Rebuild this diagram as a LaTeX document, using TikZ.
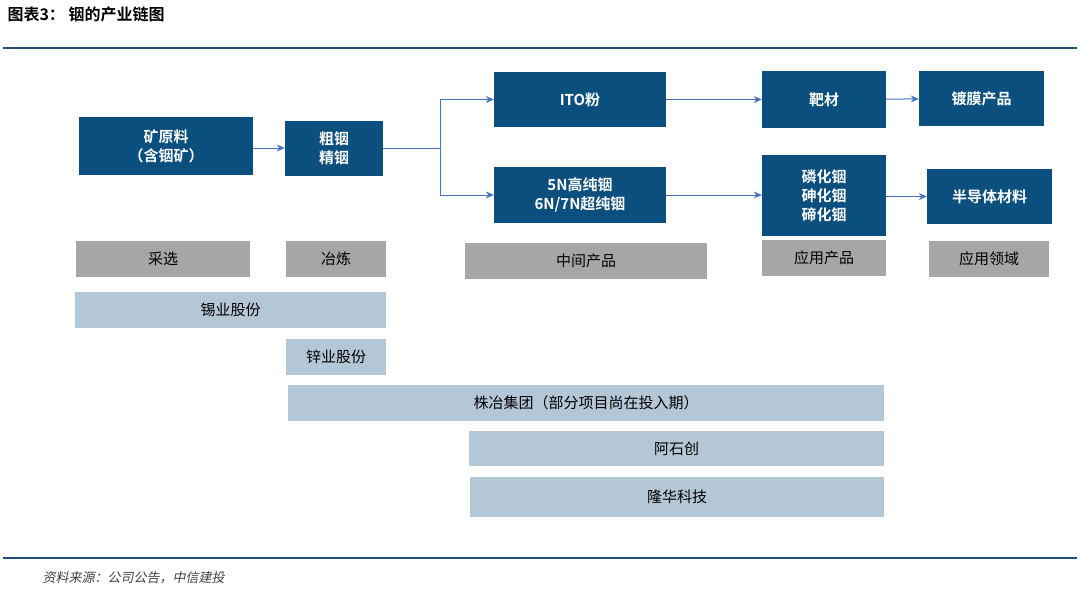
\documentclass[tikz,border=0pt]{standalone}
\usepackage{fontspec}
\setmainfont{Noto Sans CJK SC}
\newfontfamily\cjkb{Noto Sans CJK SC Bold}
\usetikzlibrary{arrows.meta}
\definecolor{dk}{HTML}{0B4F7F}
\definecolor{gr}{HTML}{A6A6A6}
\definecolor{lb}{HTML}{B4C7D7}
\definecolor{ar}{HTML}{4472C4}
\definecolor{ln}{HTML}{1F4E79}
\begin{document}
\begin{tikzpicture}[x=1pt,y=-1pt,
 dbox/.style={fill=dk,text=white,font=\cjkb\fontsize{15}{19}\selectfont,align=center,inner sep=0pt},
 gbox/.style={fill=gr,text=black,font=\fontsize{15}{18}\selectfont,inner sep=0pt},
 lbox/.style={fill=lb,text=black,font=\fontsize{15}{18}\selectfont,inner sep=0pt},
 arr/.style={draw=ar,line width=1pt,-{Stealth[length=8pt,width=7pt]}}]
\useasboundingbox (0,0) rectangle (1080,592);
\node[anchor=west,font=\cjkb\fontsize{16}{18}\selectfont] (title) at (4,14) {图表3： 铟的产业链图};
\draw[ln,line width=2pt] (3,48) -- (1077,48);
\draw[ln,line width=2pt] (3,558) -- (1077,558);
\node[anchor=west,text=black!75,font=\fontsize{13}{15}\selectfont,xslant=0.2] (src) at (40,578) {资料来源：公司公告，中信建投};
\newcommand\bx[7]{\node[#1,minimum width=#4-#3,minimum height=#6-#5] (#2) at ({(#3+#4)/2},{(#5+#6)/2}) {#7};}
\bx{dbox}{ore}{79}{253}{117}{175}{矿原料\\（含铟矿）}
\bx{dbox}{cu}{285}{383}{121}{176}{粗铟\\精铟}
\bx{dbox}{ito}{494}{666}{72}{127}{ITO粉}
\bx{dbox}{hp}{494}{666}{167}{223}{5N高纯铟\\6N/7N超纯铟}
\bx{dbox}{ba}{762}{886}{71}{128}{靶材}
\bx{dbox}{dm}{919}{1044}{71}{126}{镀膜产品}
\bx{dbox}{lh}{762}{886}{155}{236}{磷化铟\\砷化铟\\碲化铟}
\bx{dbox}{bd}{927}{1052}{169}{224}{半导体材料}
\bx{gbox}{g1}{76}{250}{241}{277}{采选}
\bx{gbox}{g2}{286}{386}{241}{277}{冶炼}
\bx{gbox}{g3}{465}{707}{243}{279}{中间产品}
\bx{gbox}{g4}{762}{886}{240}{276}{应用产品}
\bx{gbox}{g5}{929}{1049}{241}{277}{应用领域}
\bx{lbox}{l1}{75}{386}{292}{328}{锡业股份}
\bx{lbox}{l2}{286}{386}{339}{375}{锌业股份}
\bx{lbox}{l3}{288}{884}{385}{421}{株冶集团（部分项目尚在投入期）}
\bx{lbox}{l4}{469}{884}{431}{466}{阿石创}
\bx{lbox}{l5}{470}{884}{477}{517}{隆华科技}
\coordinate (j) at (440,148);
\draw[arr] (ore.east|-0,148) -- (cu.west|-0,148);
\draw[draw=ar,line width=1pt] (cu.east|-0,148) -- (j);
\draw[arr] (j) |- (ito.west);
\draw[arr] (j) |- (hp.west);
\draw[arr] (ito) -- (ba);
\draw[arr] (ba) -- (dm);
\draw[arr] (hp.east) -- (lh.west|-hp.east);
\draw[arr] (lh.east|-bd.west) -- (bd.west);
\end{tikzpicture}
\end{document}
